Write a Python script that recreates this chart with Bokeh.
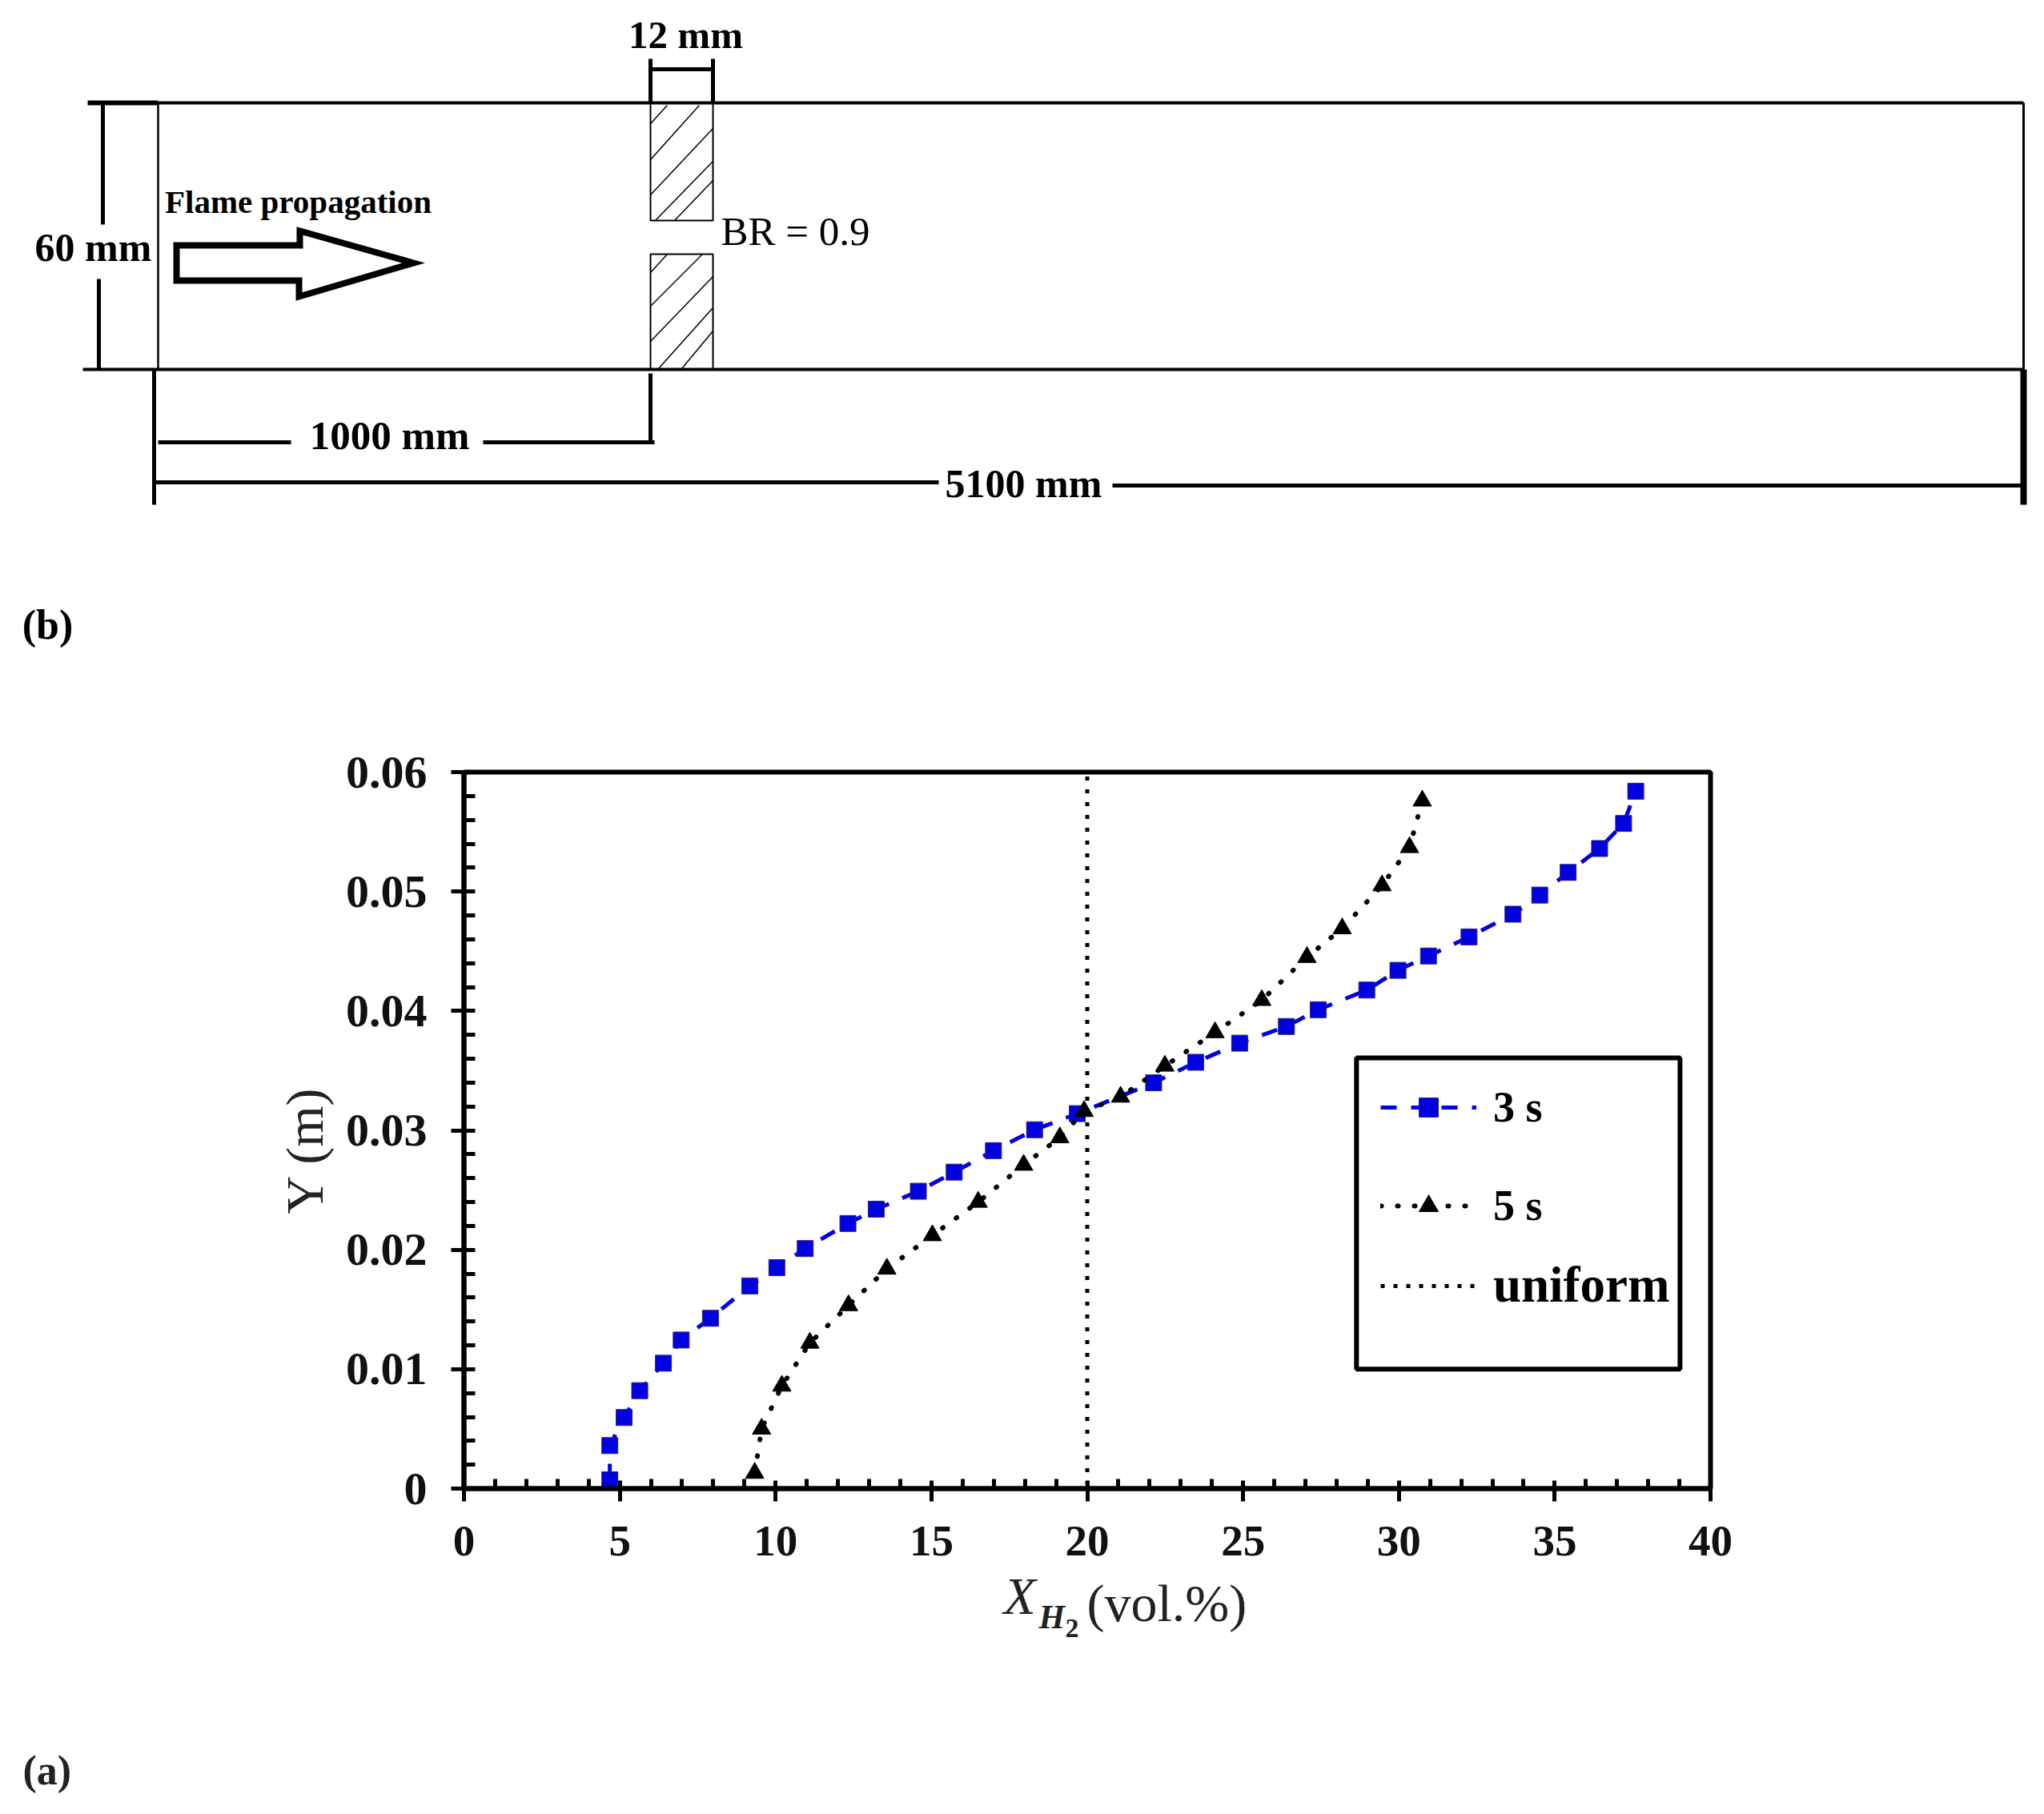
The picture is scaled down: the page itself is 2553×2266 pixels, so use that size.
from bokeh.plotting import figure
from bokeh.layouts import column, row
from bokeh.models import Range1d, FixedTicker, Legend, LegendItem, BoxAnnotation, ColumnDataSource
from bokeh.core.properties import value
from bokeh.embed import file_html
from bokeh.resources import INLINE

# ---------- chart data ----------
x_3s = [4.68, 4.68, 5.14, 5.64, 6.4, 6.97, 7.91, 9.17, 10.04, 10.95, 12.32, 13.23, 14.58, 15.73, 16.99, 18.31,
        19.68, 22.13, 23.48, 24.89, 26.39, 27.41, 28.97, 29.97, 30.95, 32.25, 33.66, 34.52, 35.43, 36.44, 37.21, 37.6]
y_3s = [0.00074, 0.0036, 0.00595, 0.0082, 0.0105, 0.01244, 0.01426, 0.01697, 0.0185, 0.0201, 0.0222, 0.0234,
        0.0249, 0.0265, 0.0283, 0.03005, 0.0314, 0.03398, 0.0357, 0.0373, 0.0387, 0.0401, 0.04175, 0.0434,
        0.0446, 0.0462, 0.0481, 0.0497, 0.0516, 0.0536, 0.0557, 0.0584]
x_5s = [9.33, 9.55, 10.2, 11.1, 12.34, 13.57, 15.03, 16.5, 17.96, 19.12, 19.9, 21.07, 22.49, 24.1, 25.6, 27.05,
        28.18, 29.46, 30.34, 30.75]
y_5s = [0.0013, 0.005, 0.0086, 0.0122, 0.01534, 0.0184, 0.0212, 0.024, 0.0271, 0.0294, 0.0316, 0.0328, 0.0354,
        0.0382, 0.0409, 0.0445, 0.0469, 0.0505, 0.0537, 0.0576]
x_uniform = [20, 20]
y_uniform = [0.0003, 0.0598]

x_ticks = [0, 5, 10, 15, 20, 25, 30, 35, 40]
x_tick_labels = ["0", "5", "10", "15", "20", "25", "30", "35", "40"]
x_minor = [i for i in range(41) if i % 5]
y_ticks = [0, 0.01, 0.02, 0.03, 0.04, 0.05, 0.06]
y_tick_labels = ["0", "0.01", "0.02", "0.03", "0.04", "0.05", "0.06"]
y_minor = [i / 500 for i in range(31) if i % 5]

legend_3s = "3 s"
legend_5s = "5 s"
legend_uniform = "uniform"
y_title = "Y (m)\u00a0\u00a0\u00a0"

# ---------- schematic, in page pixels of the drawing ----------
seg_x0 = [109, 197, 103, 197, 128, 123, 812, 890, 812, 192, 197, 603, 812, 192, 1389, 2527, 2527]
seg_y0 = [128, 128, 461, 128, 128, 348, 73, 73, 86, 461, 552, 552, 466, 602, 606, 128, 461]
seg_x1 = [197, 2527, 2527, 197, 128, 123, 812, 890, 890, 192, 363, 817, 812, 1172, 2527, 2527, 2527]
seg_y1 = [128, 128, 461, 461, 280, 461, 128, 128, 86, 630, 552, 552, 552, 602, 606, 461, 630]
seg_w = [6, 4, 4, 2.5, 5, 5, 5, 5, 5, 5, 5, 5, 5, 5, 5, 3, 8]

block_left = [812, 812]
block_right = [890, 890]
block_top = [128, 317]
block_bottom = [275, 461]

hatch_x0 = [812, 812, 812, 818, 842, 812, 812, 812, 822, 851]
hatch_y0 = [154, 199, 243, 275, 275, 340, 382, 426, 460, 460]
hatch_x1 = [833, 873, 890, 890, 890, 833, 877, 890, 890, 890]
hatch_y1 = [131, 131, 160, 201, 225, 317, 317, 345, 384, 413]

arrow_x = [220, 374, 374, 516, 373, 373, 220]
arrow_y = [306, 306, 288, 328, 370, 350, 350]

note_text = ["12 mm", "60 mm", "Flame propagation", "BR = 0.9", "1000 mm", "5100 mm", "(b)"]
note_x = [856, 116, 372, 993, 486, 1278, 59]
note_y = [43, 308, 251, 288, 543, 603, 780]
note_size = ["49px", "50px", "41px", "51px", "51px", "50px", "52px"]
note_style = ["bold", "bold", "bold", "normal", "bold", "bold", "bold"]

xlabel_text = ["X", "H", "2", "(vol.%)", "(a)"]
xlabel_x = [1253, 1297, 1330, 1357, 28]
xlabel_y = [1993, 2019, 2033, 2002, 2211]
xlabel_size = ["66px", "42px", "34px", "66px", "52px"]
xlabel_style = ["italic", "bold italic", "bold", "normal", "bold"]

SERIF = "Liberation Serif"
PAGE_W = 2537
MID_H = 1100


def bare(width, height, xr, yr):
    f = figure(width=width, height=height, x_range=Range1d(*xr), y_range=Range1d(*yr),
               x_axis_type=None, y_axis_type=None, toolbar_location=None, output_backend="svg",
               min_border=0, outline_line_color=None)
    f.grid.visible = False
    return f


# ---------- top figure: schematic ----------
top = bare(PAGE_W, 858, (0, PAGE_W), (858, 0))
top.quad(left=block_left, right=block_right, top=block_top, bottom=block_bottom,
         fill_color="white", line_color="black", line_width=2)
top.segment(hatch_x0, hatch_y0, hatch_x1, hatch_y1, line_color="black", line_width=1.5)
top.segment(seg_x0, seg_y0, seg_x1, seg_y1, line_color="black", line_width=seg_w)
top.patch(arrow_x, arrow_y, fill_color="white", line_color="black", line_width=8, line_join="miter")
notes = ColumnDataSource(dict(x=note_x, y=note_y, t=note_text, s=note_size, st=note_style))
top.text(x="x", y="y", text="t", source=notes, text_font=value(SERIF), text_font_size="s",
         text_font_style="st", text_align="center", text_baseline="middle", text_color="black")

# ---------- profile chart ----------
p = figure(width=PAGE_W, height=MID_H, x_range=Range1d(0, 40), y_range=Range1d(0, 0.06),
           toolbar_location=None, output_backend="svg",
           min_border_left=579, min_border_right=PAGE_W - 2136, min_border_top=964 - 858,
           min_border_bottom=858 + MID_H - 1859,
           outline_line_color="black", outline_line_width=6)
p.grid.visible = False

for ax in (p.xaxis[0], p.yaxis[0]):
    ax.axis_line_width = 6
    ax.major_tick_line_width = 5
    ax.minor_tick_line_width = 5
    ax.major_tick_out = 16
    ax.minor_tick_out = 0
    ax.major_label_text_font = SERIF
    ax.major_label_text_font_style = "bold"
    ax.major_label_text_color = "#111111"

p.xaxis[0].ticker = FixedTicker(ticks=x_ticks, minor_ticks=x_minor)
p.xaxis[0].major_label_overrides = dict(zip(x_ticks, x_tick_labels))
p.xaxis[0].major_tick_in = 10
p.xaxis[0].minor_tick_in = 12
p.xaxis[0].major_label_standoff = 31
p.xaxis[0].major_label_text_font_size = "55px"
p.yaxis[0].ticker = FixedTicker(ticks=y_ticks, minor_ticks=y_minor)
p.yaxis[0].major_label_overrides = dict(zip(y_ticks, y_tick_labels))
p.yaxis[0].major_tick_in = 14
p.yaxis[0].minor_tick_in = 14
p.yaxis[0].major_label_standoff = 30
p.yaxis[0].major_label_text_font_size = "58px"
p.yaxis[0].axis_label = y_title
p.yaxis[0].axis_label_text_font = SERIF
p.yaxis[0].axis_label_text_font_size = "66px"
p.yaxis[0].axis_label_text_font_style = "normal"
p.yaxis[0].axis_label_text_color = "#222222"
p.yaxis[0].axis_label_standoff = 12

BLUE = "#0000e0"
l_uni = p.line(x_uniform, y_uniform, line_color="black", line_width=5, line_dash="5 11")
l3 = p.line(x_3s, y_3s, line_color=BLUE, line_width=5, line_dash="20 18")
m3 = p.scatter(x_3s, y_3s, marker="square", size=20, fill_color=BLUE, line_color="#30207a", line_width=1)
l5 = p.line(x_5s, y_5s, line_color="black", line_width=6, line_dash="1 20", line_cap="round")
m5 = p.scatter(x_5s, y_5s, marker="triangle", size=23, fill_color="black", line_color="black")

# legend frame, in data units of the axes
p.add_layout(BoxAnnotation(left=28.64, right=39.02, bottom=0.01, top=0.03607, fill_alpha=0,
                           line_color="black", line_alpha=1, line_width=6))


def make_legend(items, loc, size, spacing=0):
    return Legend(items=items, location=loc, orientation="vertical", padding=0, margin=0, spacing=spacing,
                  glyph_width=120, glyph_height=60, label_height=60, label_standoff=21,
                  label_text_font=SERIF, label_text_font_size=size, label_text_font_style="bold",
                  label_text_color="black", label_text_baseline="middle",
                  border_line_color=None, background_fill_alpha=0)


p.add_layout(make_legend([LegendItem(label=legend_3s, renderers=[l3, m3]),
                          LegendItem(label=legend_5s, renderers=[l5, m5])], (1145, 322), "54px", 61))
p.add_layout(make_legend([LegendItem(label=legend_uniform, renderers=[l_uni])], (1145, 217), "63px"))

# ---------- bottom strip: X title and panel letter ----------
bottom = bare(PAGE_W, 302, (0, PAGE_W), (858 + MID_H + 302, 858 + MID_H))
xl = ColumnDataSource(dict(x=xlabel_x, y=xlabel_y, t=xlabel_text, s=xlabel_size, st=xlabel_style))
bottom.text(x="x", y="y", text="t", source=xl, text_font=value(SERIF), text_font_size="s",
            text_font_style="st", text_align="left", text_baseline="middle", text_color="#222222")

page = column(top, row(p, spacing=0), bottom, spacing=0)
open("out.html", "w").write(file_html(page, INLINE))
